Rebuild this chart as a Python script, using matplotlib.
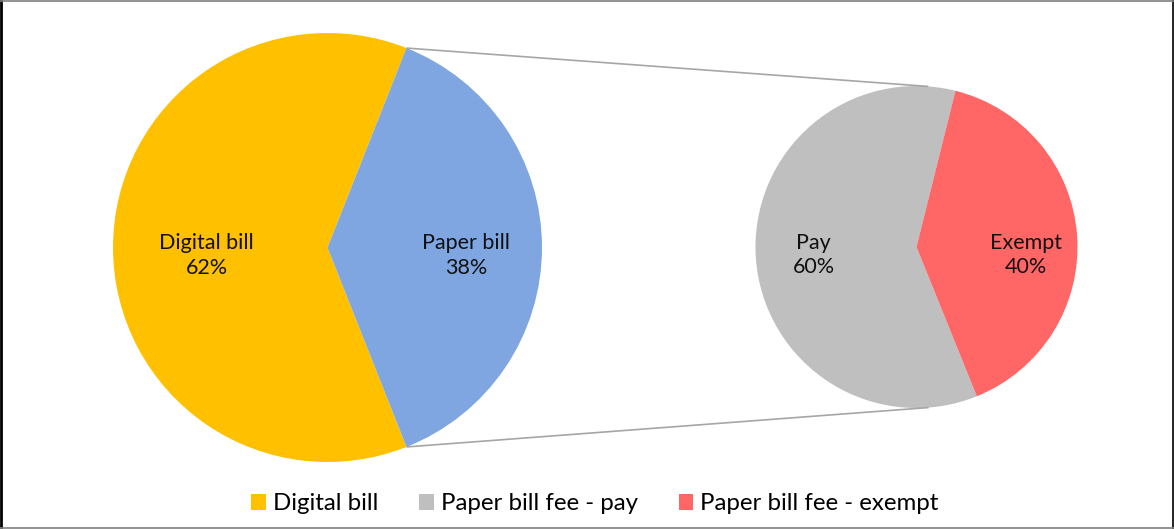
import numpy as np
import matplotlib
matplotlib.use("Agg")
import matplotlib.pyplot as plt
from matplotlib.lines import Line2D

plt.rcParams['font.family'] = ['Lato', 'DejaVu Sans']

# main pie: how bills are delivered
main_labels = ["Digital bill", "Paper bill"]
main_values = [62, 38]
# breakdown of the paper bill slice
sub_labels = ["Pay", "Exempt"]
sub_values = [60, 40]
legend_labels = ["Digital bill", "Paper bill fee - pay", "Paper bill fee - exempt"]

main_colors = ["#FFC000", "#7FA6E0"]
sub_colors = ["#BFBFBF", "#FF6666"]

W, H = 1174, 529
fig = plt.figure(figsize=(W / 100, H / 100), dpi=100)
ax = fig.add_axes([0, 0, 1, 1])

c1, r1 = (327.5, 281.5), 214.5
c2, r2 = (916.5, 282.0), 161.0

w1, _ = ax.pie(main_values, colors=main_colors, center=c1, radius=r1,
               startangle=main_values[1] / sum(main_values) * 180,
               wedgeprops=dict(linewidth=0))
w2, _ = ax.pie(sub_values, colors=sub_colors, center=c2, radius=r2,
               startangle=76, wedgeprops=dict(linewidth=0))


def put_labels(wedges, names, values, dists, size):
    total = sum(values)
    for w, name, v, d in zip(wedges, names, values, dists):
        ang = np.deg2rad((w.theta1 + w.theta2) / 2)
        x = w.center[0] + d * w.r * np.cos(ang)
        y = w.center[1] - 8
        ax.text(x, y, f"{name}\n{v / total * 100:.0f}%", ha="center", va="center",
                fontsize=size, linespacing=1.3, color="#111111")


put_labels(w1, main_labels, main_values, [0.564, 0.646], 15.5)
put_labels(w2, sub_labels, sub_values, [0.64, 0.68], 15.5)

# connector lines: from the edges of the paper slice, tangent to the second pie
paper = w1[1]
for theta, sign in [(paper.theta2, -1), (paper.theta1, 1)]:
    px = paper.center[0] + paper.r * np.cos(np.deg2rad(theta))
    py = paper.center[1] + paper.r * np.sin(np.deg2rad(theta))
    vx, vy = px - c2[0], py - c2[1]
    d = np.hypot(vx, vy)
    phi = np.arctan2(vy, vx)
    a = phi + sign * np.arccos(r2 / d)
    tx, ty = c2[0] + r2 * np.cos(a), c2[1] + r2 * np.sin(a)
    ax.plot([px, tx], [py, ty], color="#A6A6A6", lw=1.2, solid_capstyle="butt")

ax.set_xlim(0, W)
ax.set_ylim(0, H)
ax.set_aspect("equal")
ax.axis("off")

handles = [w1[0], w2[0], w2[1]]
fig.legend(handles, legend_labels, loc="center", ncol=3, frameon=False,
           bbox_to_anchor=(595 / W, 1 - 504 / H), fontsize=17.3,
           handlelength=0.6, handleheight=0.6, handletextpad=0.3,
           columnspacing=1.7)

# outer frame
fig.add_artist(Line2D([0.001, 0.001], [0, 1], color="black", lw=2, transform=fig.transFigure))
fig.add_artist(Line2D([0.9993, 0.9993], [0, 1], color="black", lw=1.2, transform=fig.transFigure))
fig.add_artist(Line2D([0, 1], [0.999, 0.999], color="#7F7F7F", lw=1.2, transform=fig.transFigure))
fig.add_artist(Line2D([0, 1], [0.0015, 0.0015], color="#7F7F7F", lw=1.2, transform=fig.transFigure))

fig.savefig("out.png", dpi=100)
